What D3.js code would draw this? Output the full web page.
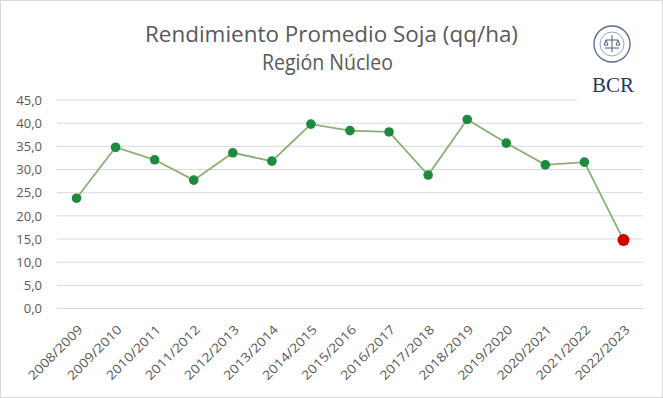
<!DOCTYPE html>
<html><head><meta charset="utf-8">
<script src="https://cdn.jsdelivr.net/npm/d3@7"></script>
<style>body{margin:0;background:#fff}svg{display:block}</style>
</head><body>
<svg id="c" width="663" height="398"></svg>
<script>
const categories = ["2008/2009","2009/2010","2010/2011","2011/2012","2012/2013","2013/2014","2014/2015","2015/2016","2016/2017","2017/2018","2018/2019","2019/2020","2020/2021","2021/2022","2022/2023"];
const rendimiento = [23.8,34.8,32.1,27.7,33.6,31.8,39.8,38.4,38.1,28.8,40.8,35.7,31.0,31.6,14.8];
const yTicks = [0,5,10,15,20,25,30,35,40,45];
const titleLines = ["Rendimiento Promedio Soja (qq/ha)","Región Núcleo"];

const svg = d3.select("#c");
const W = 663, H = 398;
svg.append("rect").attr("x",0.5).attr("y",0.5).attr("width",W-1).attr("height",H-1)
  .attr("fill","#fff").attr("stroke","#d9d9d9");

const x = d3.scaleBand().domain(categories).range([57,643]);
const y = d3.scaleLinear().domain([0,45]).range([308.5,100]);

// gridlines
svg.append("g").selectAll("line").data(yTicks).join("line")
  .attr("x1",57).attr("x2",643).attr("y1",d=>y(d)).attr("y2",d=>y(d))
  .attr("stroke","#d9d9d9").attr("stroke-width",1);

// y axis
const yAxis = d3.axisLeft(y).tickValues(yTicks).tickSize(0).tickPadding(0)
  .tickFormat(d=>d3.format(".1f")(d).replace(".",","));
const ya = svg.append("g").attr("transform","translate(42,0)").call(yAxis);
ya.select(".domain").remove();
ya.selectAll("text").attr("font-family","'Open Sans', sans-serif").attr("font-size",13).attr("fill","#595959");

// x axis
const xAxis = d3.axisBottom(x).tickSize(0).tickPadding(0);
const xa = svg.append("g").attr("transform","translate(0,308.5)").call(xAxis);
xa.select(".domain").remove();
xa.selectAll("text")
  .attr("font-family","'Open Sans', sans-serif").attr("font-size",12.5).attr("fill","#595959")
  .attr("text-anchor","end").attr("dy",0).attr("y",0)
  .attr("textLength",71).attr("lengthAdjust","spacingAndGlyphs")
  .attr("transform","translate(7,22) rotate(-45)");

// line
const line = d3.line().x((d,i)=>x(categories[i])+x.bandwidth()/2).y(d=>y(d));
svg.append("path").datum(rendimiento).attr("d",line)
  .attr("fill","none").attr("stroke","#8aaf73").attr("stroke-width",1.8);

svg.append("g").selectAll("circle").data(rendimiento).join("circle")
  .attr("cx",(d,i)=>x(categories[i])+x.bandwidth()/2).attr("cy",d=>y(d))
  .attr("r",(d,i)=>i===rendimiento.length-1?6:4.8)
  .attr("fill",(d,i)=>i===rendimiento.length-1?"#d00000":"#1e8a40");

// logo box
svg.append("rect").attr("x",577).attr("y",1).attr("width",85).attr("height",101).attr("fill","#fff");
const lg = svg.append("g").attr("transform","translate(612,44)");
lg.append("circle").attr("r",18).attr("fill","#fff").attr("stroke","#5a6f95").attr("stroke-width",1.4);
lg.append("circle").attr("r",12).attr("fill","none").attr("stroke","#7d8fb0").attr("stroke-width",0.8);
lg.append("path").attr("d","M-7,4 L7,4 M0,-9 L0,8 M-6,-4 L6,-4 M-6,-4 L-8,1 L-4,1 Z M6,-4 L8,1 L4,1 Z")
  .attr("stroke","#4a5f88").attr("stroke-width",1).attr("fill","none");
svg.append("text").attr("x",613).attr("y",92).attr("text-anchor","middle")
  .attr("font-family","'Liberation Serif', serif").attr("font-size",21).attr("fill","#1f3864").text("BCR");

// title
svg.append("g").selectAll("text").data(titleLines).join("text")
  .attr("x",(d,i)=>i===0?331.5:327.5).attr("y",(d,i)=>42+i*28).attr("text-anchor","middle")
  .attr("font-family","'Open Sans', sans-serif").attr("font-size",21).attr("fill","#595959")
  .attr("textLength",(d,i)=>i===0?373:131).attr("lengthAdjust","spacingAndGlyphs")
  .text(d=>d);
</script>
</body></html>
